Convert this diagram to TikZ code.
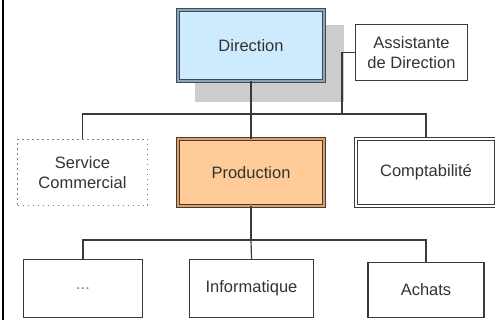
\documentclass[tikz,border=0pt]{standalone}
\usepackage{fontspec}
\setmainfont{Liberation Sans}
\definecolor{linegray}{HTML}{3A3A3A}
\definecolor{textgray}{HTML}{333333}
\definecolor{dirfill}{HTML}{CDEBFC}
\definecolor{dirband}{HTML}{8BA6BA}
\definecolor{dirline}{HTML}{3E4C57}
\definecolor{prodfill}{HTML}{FFCC99}
\definecolor{prodband}{HTML}{D9A173}
\definecolor{prodline}{HTML}{4A3A2C}
\definecolor{shadowgray}{HTML}{CCCCCC}
\tikzset{
  orgbox/.style={draw=linegray, line width=1.1pt, fill=white, text=textgray,
    font=\fontsize{16.5}{20}\selectfont, align=center, inner sep=0pt},
  dirbox/.style={orgbox, draw=dirline, double=dirband, double distance=2.2pt, fill=dirfill},
  prodbox/.style={orgbox, draw=prodline, double=prodband, double distance=2.2pt, fill=prodfill},
  compbox/.style={orgbox, draw=linegray, double=white, double distance=2pt, line width=1pt},
  dotbox/.style={orgbox, draw=gray, line width=1.3pt, dash pattern=on 1.3pt off 3.7pt},
  conn/.style={draw=linegray, line width=1.2pt},
}
\begin{document}
\begin{tikzpicture}[x=1pt, y=-1pt]
\useasboundingbox (0,0) rectangle (495,320);
\fill[white] (0,0) rectangle (495,320);
\draw[black, line width=2pt] (3,0) -- (3,320);
% shadow
\fill[shadowgray] (195,25) rectangle (344,102);
% nodes
\node[dirbox, minimum width=145.6pt, minimum height=70.6pt] (dir) at (251,45.5) {Direction};
\node[orgbox, minimum width=112pt, minimum height=56pt] (asst) at (411.5,52.5) {Assistante\\de Direction};
\node[dotbox, minimum width=130pt, minimum height=66pt] (sc) at (82.5,172.5) {Service\\Commercial};
\node[prodbox, minimum width=145.6pt, minimum height=66.6pt] (prod) at (251,172.5) {Production};
\node[compbox, minimum width=140pt, minimum height=67pt] (comp) at (426,172.5) {Comptabilit\'e};
\node[orgbox, minimum width=119pt, minimum height=58pt] (dots) at (83,288.5) {\textcolor{gray}{...}};
\node[orgbox, minimum width=124pt, minimum height=58pt] (info) at (251.5,288.5) {Informatique};
\node[orgbox, minimum width=116pt, minimum height=55pt] (ach) at (426,290) {Achats};
% connectors
\coordinate (bus1) at (251,114);
\coordinate (aj) at (342,114);
\coordinate (bus2) at (251,240);
\draw[conn] (dir.south) -- (prod.north);
\draw[conn] (asst.west) -| (aj);
\draw[conn] (sc.north) |- (bus1) -| (comp.north);
\draw[conn] (prod.south) -- (bus2);
\draw[conn] (dots.north) |- (bus2) -| (ach.north);
\draw[conn] (bus2) -- (info.north);
\end{tikzpicture}
\end{document}
